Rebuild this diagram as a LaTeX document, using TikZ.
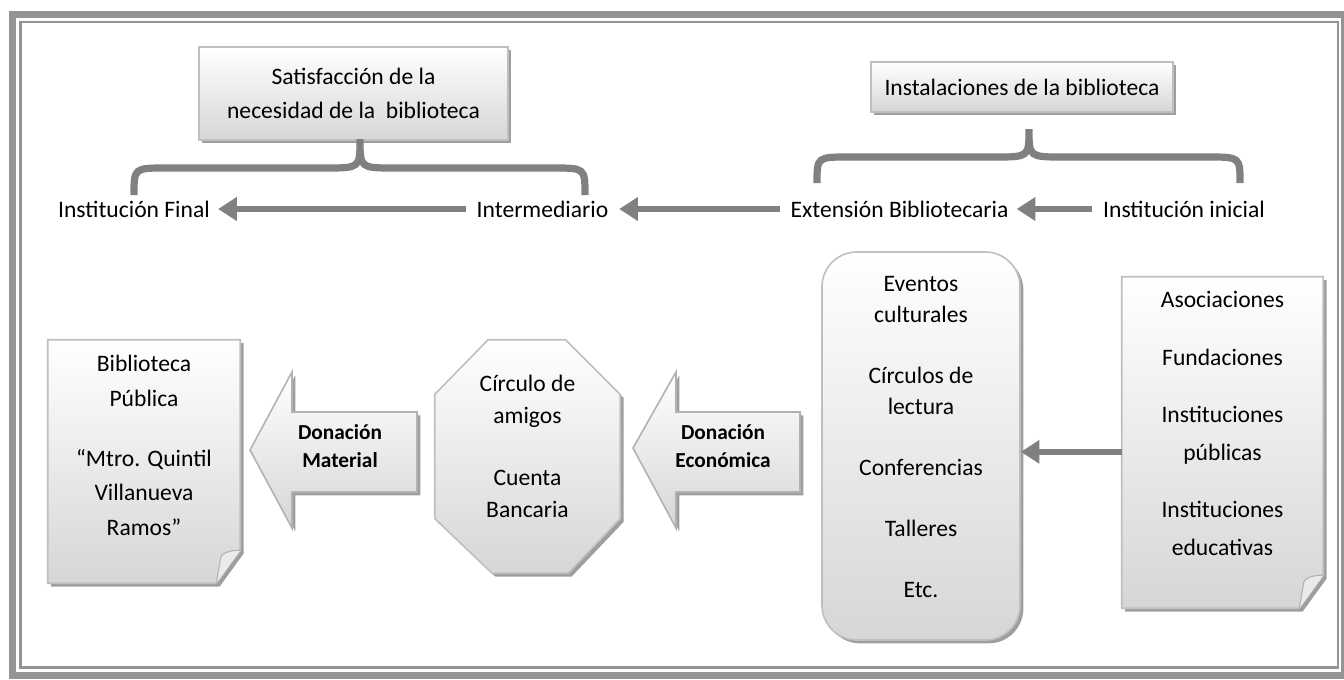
\documentclass[tikz,border=0pt]{standalone}
\usepackage{fontspec}
\setmainfont{Carlito}
\usetikzlibrary{arrows.meta,shadows,positioning}

\tikzset{
  caja/.style={draw=black!25, line width=1.2pt, top color=white, bottom color=black!16,
    drop shadow={shadow xshift=2.5pt, shadow yshift=-2.5pt, fill=black!38, opacity=1}},
  flecha/.style={draw=black!50, line width=5.2pt, -{Triangle[length=14pt,width=17pt]}},
  llave/.style={draw=black!50, line width=5.4pt},
  texto/.style={inner sep=8pt},
  hueco/.style={inner sep=0pt},
  negrita/.style={font=\fontsize{16}{21}\selectfont\bfseries, align=center},
}
% hoja con esquina doblada, sobre un nodo vacio
\newcommand{\hoja}[1]{%
  \path[caja] (#1.north west) -- (#1.north east) -- ([yshift=24.75pt]#1.south east)
    -- ([xshift=-18pt]#1.south east) -- (#1.south west) -- cycle;
  \draw[black!30, line width=0.8pt, fill=black!8] ([xshift=-18pt]#1.south east)
    -- ([xshift=-14.5pt,yshift=20pt]#1.south east)
    .. controls ([xshift=-12pt,yshift=24pt]#1.south east) and ([xshift=-4pt,yshift=25pt]#1.south east)
    .. ([yshift=24.75pt]#1.south east);
}

\begin{document}
\begin{tikzpicture}[x=0.75pt,y=-0.75pt,font=\fontsize{17.7}{22}\selectfont]
\useasboundingbox (0,0) rectangle (1344,679);

% marco
\draw[black!42, line width=5.4pt] (12.5,14.5) rectangle (1344.5,675.5);
\draw[black!42, line width=1.8pt] (20.5,22) rectangle (1338,667.5);

% cajas de arriba
\node[caja, align=center, minimum width=231.8pt, minimum height=69.8pt,
  font=\fontsize{17.7}{25.5}\selectfont] (satis) at (353.5,93.5)
  {Satisfacción de la\\necesidad de la\ \ biblioteca};
\node[caja, minimum width=226.5pt, minimum height=37.5pt] (instal) at (1022,87)
  {Instalaciones de la biblioteca};

% fila de textos
\node[texto] (final) at (134,209) {Institución Final};
\node[texto] (inter) at (542.5,209) {Intermediario};
\node[texto] (exten) at (899.5,209) {Extensión Bibliotecaria};
\node[texto] (inicial) at (1184,209) {Institución inicial};

\draw[flecha, shorten >=-2pt] (inter) -- (final);
\draw[flecha] (exten) -- (inter);
\draw[flecha, shorten >=-2pt] (inicial) -- (exten);

% llaves
\draw[llave] (134,195) .. controls (134,168) .. (166,168) -- (326,168)
  .. controls (360,168) .. (360,139) .. controls (360,168) .. (394,168)
  -- (553,168) .. controls (585,168) .. (585,195);
\draw[llave] (817,183) .. controls (817,157) .. (849,157) -- (995,157)
  .. controls (1029,157) .. (1029,129) .. controls (1029,157) .. (1063,157)
  -- (1208,157) .. controls (1240,157) .. (1240,183);

% abajo
\node[hueco, minimum width=144pt, minimum height=182.25pt] (biblio) at (144,461.5) {};
\hoja{biblio}
\node[align=center, font=\fontsize{17.7}{26}\selectfont] (biblio-t) at ([yshift=12pt]biblio.center)
  {Biblioteca\\Pública\\[19pt]“Mtro. Quintil\\Villanueva\\Ramos”};

\node[hueco, minimum width=138.75pt, minimum height=174.75pt] (circulo) at (527.5,456.5) {};
\path[caja] ([xshift=40pt]circulo.north west) -- ([xshift=-41pt]circulo.north east)
  -- ([yshift=-41pt]circulo.north east) -- ([yshift=41pt]circulo.south east)
  -- ([xshift=-39pt]circulo.south east) -- ([xshift=43pt]circulo.south west)
  -- ([yshift=41pt]circulo.south west) -- ([yshift=-41pt]circulo.north west) -- cycle;
\node[align=center, font=\fontsize{17.7}{24}\selectfont] (circulo-t) at ([yshift=7.5pt]circulo.center)
  {Círculo de\\amigos\\[22.5pt]Cuenta\\Bancaria};

\node[hueco, caja, rounded corners=26pt, minimum width=148.5pt, minimum height=291pt] (eventos) at (921,446) {};
\node[align=center, font=\fontsize{17.7}{23.25}\selectfont] (eventos-t) at ([yshift=7pt]eventos.center)
  {Eventos\\culturales\\[22.5pt]Círculos de\\lectura\\[22.5pt]Conferencias\\[22.5pt]Talleres\\[22.5pt]Etc.};

\node[hueco, minimum width=150.75pt, minimum height=248.25pt] (asoc) at (1222.5,442.5) {};
\hoja{asoc}
\node[align=center, font=\fontsize{17.7}{28.5}\selectfont] (asoc-t) at ([yshift=14pt]asoc.center)
  {Asociaciones\\[14.5pt]Fundaciones\\[14.5pt]Instituciones\\públicas\\[14.5pt]Instituciones\\educativas};

\coordinate (asocin) at ([yshift=-7pt]asoc.west);
\draw[flecha, line width=4.6pt] (asocin) -- (asocin -| eventos.east);

% flechas gruesas
\path[caja, draw=black!30] (417,412) -- (292,412) -- (292,372) -- (250,450) -- (292,528)
  -- (292,492) -- (417,492) -- cycle;
\node[negrita] (material) at (340,446) {Donación\\Material};
\path[caja, draw=black!30] (800,412) -- (676,412) -- (676,372) -- (633,448) -- (676,528)
  -- (676,492) -- (800,492) -- cycle;
\node[negrita] (economica) at (723,446) {Donación\\Económica};

\end{tikzpicture}
\end{document}
